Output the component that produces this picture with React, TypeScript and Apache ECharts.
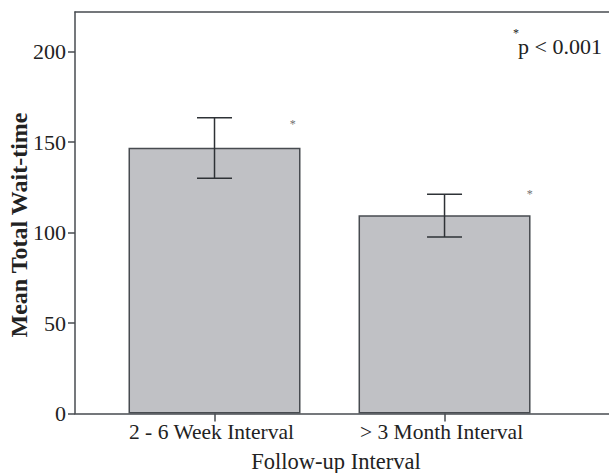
import React, { useEffect, useRef } from "react";
import * as echarts from "echarts";

const categories = ["2 - 6 Week Interval", "> 3 Month Interval"];
const categoryPos = [1, 2];
const means = [146.9, 109.6];
const ciLow = [130.1, 97.6];
const ciHigh = [163.5, 121.2];
const starX = [1.34, 2.37];
const starValues = [162.5, 123.8];
const yTicks = [0, 50, 100, 150, 200];
const yTitle = "Mean Total Wait-time";
const xTitle = "Follow-up Interval";
const noteText = "p < 0.001";

const FONT = "'Liberation Serif', 'Times New Roman', serif";
const AXIS_COLOR = "#474b50";
const TEXT_COLOR = "#222222";

export default function App() {
  const ref = useRef<HTMLDivElement>(null);

  useEffect(() => {
    if (!ref.current) return;
    const chart = echarts.init(ref.current, undefined, { renderer: "svg" });

    const barData = categoryPos.map((x, i) => [x, means[i]]);
    const errData = categoryPos.map((x, i) => [x, ciLow[i], ciHigh[i], starX[i], starValues[i]]);

    chart.setOption({
      animation: false,
      backgroundColor: "#ffffff",
      grid: {
        left: 75,
        right: 0,
        top: 12,
        bottom: 59.5,
        containLabel: false,
        outerBoundsMode: "none",
      },
      xAxis: [
        {
          type: "value",
          min: 0.3935,
          max: 2.715,
          splitLine: { show: false },
          axisLine: { show: true, lineStyle: { color: AXIS_COLOR, width: 1.5 } },
          axisTick: {
            show: true,
            length: 8,
            customValues: categoryPos,
            lineStyle: { color: AXIS_COLOR, width: 1.5 },
          },
          axisLabel: {
            customValues: categoryPos,
            formatter: (v: number) => categories[Math.round(v) - 1] ?? "",
            fontFamily: FONT,
            fontSize: 21.5,
            color: TEXT_COLOR,
            margin: 7,
            padding: [0, 6, 0, 0],
          },
          name: xTitle,
          nameLocation: "middle",
          nameGap: 36,
          nameTextStyle: {
            fontFamily: FONT,
            fontSize: 22.5,
            color: TEXT_COLOR,
            padding: [0, 12, 0, 0],
          },
        },
        {
          type: "value",
          position: "top",
          min: 0.3935,
          max: 2.715,
          splitLine: { show: false },
          axisLine: { show: true, lineStyle: { color: AXIS_COLOR, width: 1.5 } },
          axisTick: { show: false },
          axisLabel: { show: false },
        },
      ],
      yAxis: {
        type: "value",
        min: 0,
        max: 222,
        interval: 50,
        splitLine: { show: false },
        axisLine: { show: true, lineStyle: { color: AXIS_COLOR, width: 1.5 } },
        axisTick: {
          show: true,
          length: 7,
          customValues: yTicks,
          lineStyle: { color: AXIS_COLOR, width: 1.5 },
        },
        axisLabel: {
          customValues: yTicks,
          fontFamily: FONT,
          fontSize: 22,
          color: TEXT_COLOR,
          margin: 9,
        },
      },
      series: [
        {
          type: "bar",
          data: barData,
          barWidth: 172,
          itemStyle: { color: "#c0c1c5", borderColor: AXIS_COLOR, borderWidth: 1.5 },
        },
        {
          type: "custom",
          data: errData,
          z: 10,
          renderItem: (params: any, api: any) => {
            const x = api.value(0);
            const lo = api.coord([x, api.value(1)]);
            const hi = api.coord([x, api.value(2)]);
            const star = api.coord([api.value(3), api.value(4)]);
            const half = 17.5;
            const ls = { stroke: "#2e3236", lineWidth: 1.5 };
            return {
              type: "group",
              children: [
                { type: "line", shape: { x1: lo[0], y1: lo[1], x2: hi[0], y2: hi[1] }, style: ls },
                { type: "line", shape: { x1: lo[0] - half, y1: lo[1], x2: lo[0] + half, y2: lo[1] }, style: ls },
                { type: "line", shape: { x1: hi[0] - half, y1: hi[1], x2: hi[0] + half, y2: hi[1] }, style: ls },
                {
                  type: "text",
                  x: star[0],
                  y: star[1] + 4,
                  style: {
                    text: "*",
                    fontSize: 12,
                    fontFamily: FONT,
                    fill: "#6f6f6f",
                    align: "center",
                    verticalAlign: "middle",
                  },
                },
              ],
            };
          },
        },
      ],
      graphic: [
        {
          type: "text",
          x: 19,
          y: 225,
          rotation: Math.PI / 2,
          style: {
            text: yTitle,
            fontSize: 24,
            fontWeight: "bold",
            fontFamily: FONT,
            fill: TEXT_COLOR,
            align: "center",
            verticalAlign: "middle",
          },
        },
        {
          type: "text",
          left: 513,
          top: 27,
          style: { text: "*", fontSize: 12, fontFamily: FONT, fill: TEXT_COLOR },
        },
        {
          type: "text",
          left: 518,
          top: 35,
          style: { text: noteText, fontSize: 22, fontFamily: FONT, fill: TEXT_COLOR },
        },
      ],
    });

    return () => chart.dispose();
  }, []);

  return (
    <div
      ref={ref}
      style={{ position: "fixed", left: 0, top: 0, width: 609, height: 473, background: "#fff" }}
    />
  );
}
